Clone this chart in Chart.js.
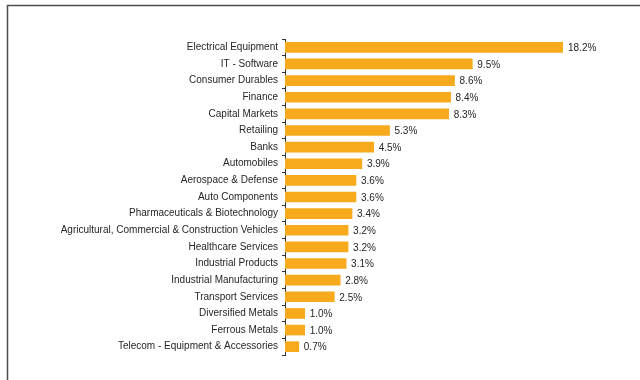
<!DOCTYPE html>
<html>
<head>
<meta charset="utf-8">
<script src="https://cdn.jsdelivr.net/npm/chart.js@4.4.1/dist/chart.umd.min.js"></script>
<style>
  html, body { margin: 0; padding: 0; background: #fff; }
  #wrap { position: relative; width: 640px; height: 380px; }
</style>
</head>
<body>
<div id="wrap"><canvas id="sectorChart" width="640" height="380"></canvas></div>
<script>
const sectors = [
    "Electrical Equipment",
    "IT - Software",
    "Consumer Durables",
    "Finance",
    "Capital Markets",
    "Retailing",
    "Banks",
    "Automobiles",
    "Aerospace & Defense",
    "Auto Components",
    "Pharmaceuticals & Biotechnology",
    "Agricultural, Commercial & Construction Vehicles",
    "Healthcare Services",
    "Industrial Products",
    "Industrial Manufacturing",
    "Transport Services",
    "Diversified Metals",
    "Ferrous Metals",
    "Telecom - Equipment & Accessories"
];
const weights = [18.2, 9.5, 8.6, 8.4, 8.3, 5.3, 4.5, 3.9, 3.6, 3.6, 3.4, 3.2, 3.2, 3.1, 2.8, 2.5, 1.0, 1.0, 0.7];
// axis is capped, so the largest bar runs to the edge of the plot
const axisMax = 14.1;

const labelFont = { family: "'Liberation Sans', Arial, sans-serif", size: 10 };

// frame lines along the top and left
const framePlugin = {
    id: "frame",
    beforeDraw(chart) {
        const ctx = chart.ctx;
        ctx.save();
        ctx.strokeStyle = "#4d4d4d";
        ctx.lineWidth = 1.5;
        ctx.beginPath();
        ctx.moveTo(7.5, 380);
        ctx.lineTo(7.5, 5.5);
        ctx.lineTo(640, 5.5);
        ctx.stroke();
        ctx.restore();
    }
};

// value text just past the visible end of each bar
const valueLabels = {
    id: "valueLabels",
    afterDatasetsDraw(chart) {
        const ctx = chart.ctx;
        const area = chart.chartArea;
        const meta = chart.getDatasetMeta(0);
        ctx.save();
        ctx.font = labelFont.size + "px " + labelFont.family;
        ctx.fillStyle = "#262626";
        ctx.textAlign = "left";
        ctx.textBaseline = "middle";
        meta.data.forEach((bar, i) => {
            const x = Math.min(bar.x, area.right) + 5;
            ctx.fillText(weights[i].toFixed(1) + "%", x, bar.y + 1);
        });
        ctx.restore();
    }
};

new Chart(document.getElementById("sectorChart"), {
    type: "bar",
    data: {
        labels: sectors,
        datasets: [{
            data: weights,
            backgroundColor: "#F6AA1C",
            barThickness: 10
        }]
    },
    options: {
        indexAxis: "y",
        responsive: false,
        animation: false,
        layout: { padding: { left: 0, right: 77, top: 39, bottom: 25 } },
        scales: {
            x: {
                display: false,
                min: 0,
                max: axisMax
            },
            y: {
                afterFit(scale) { scale.width = 285; },
                border: { color: "#333", width: 1 },
                grid: {
                    drawOnChartArea: false,
                    tickLength: 3,
                    tickColor: "#333"
                },
                ticks: {
                    color: "#262626",
                    font: labelFont,
                    padding: 4,
                    autoSkip: false
                }
            }
        },
        plugins: {
            legend: { display: false },
            tooltip: { enabled: false }
        }
    },
    plugins: [framePlugin, valueLabels]
});
</script>
</body>
</html>
